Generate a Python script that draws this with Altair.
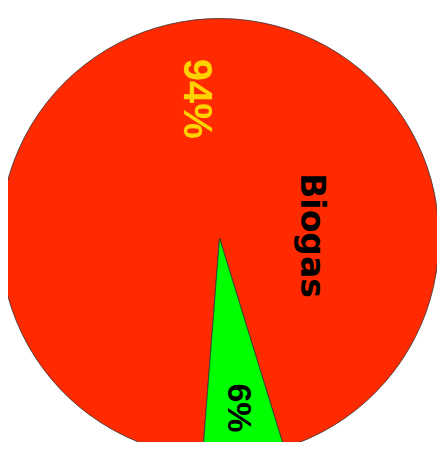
import altair as alt
import pandas as pd

categories = ["Biogas", "Other"]
values = [94, 6]
labels = ["94%", "6%"]
colors = ["#FF2A00", "#00FF00"]

df = pd.DataFrame({"category": categories, "value": values, "label": labels})
base = alt.Chart(df)

theta_scale = alt.Scale(domain=[0, 100], range=[2.8423, 9.1255])
cx, cy = 211.5, 230

pie = base.mark_arc(radius=219.5, stroke="#333333", strokeWidth=0.8).encode(
    x=alt.value(cx), y=alt.value(cy),
    theta=alt.Theta("value:Q", stack=True, scale=theta_scale),
    color=alt.Color("category:N", scale=alt.Scale(domain=categories, range=colors), legend=None),
    order=alt.Order("value:Q", sort="ascending"),
)

stacked = base.transform_stack(
    stack="value", groupby=[], as_=["v0", "v1"],
    sort=[alt.SortField("value", order="ascending")],
).transform_calculate(mid="(datum.v0 + datum.v1) / 2")

lab_font = "Liberation Sans"

t94 = stacked.transform_filter(alt.datum.category == "Biogas").mark_text(
    radius=140, angle=90, font=lab_font, fontSize=40, fontWeight="bold",
    color="#FFD200", align="center", baseline="middle", dy=8,
).encode(x=alt.value(cx), y=alt.value(cy),
         theta=alt.Theta("mid:Q", stack=None), text="label:N")

t6 = stacked.transform_filter(alt.datum.category == "Other").mark_text(
    radius=171, angle=90, font=lab_font, fontSize=34, fontWeight="bold",
    color="#000000", align="center", baseline="middle",
).encode(x=alt.value(cx), y=alt.value(cy),
         theta=alt.Theta("mid:Q", stack=None), text="label:N")

name_df = pd.DataFrame({"name": [categories[0]]})
biogas = alt.Chart(name_df).mark_text(
    angle=90, font="DejaVu Sans", fontSize=33, fontWeight="bold",
    color="#000000", align="center", baseline="middle",
).encode(x=alt.value(303), y=alt.value(227.5), text="name:N")

chart = alt.layer(pie, t94, t6, biogas).properties(
    width=429, height=434,
    padding=0,
    autosize=alt.AutoSizeParams(type="none"),
).configure_view(stroke=None)

chart.save("out.html", embed_options={"renderer": "svg", "actions": False})
